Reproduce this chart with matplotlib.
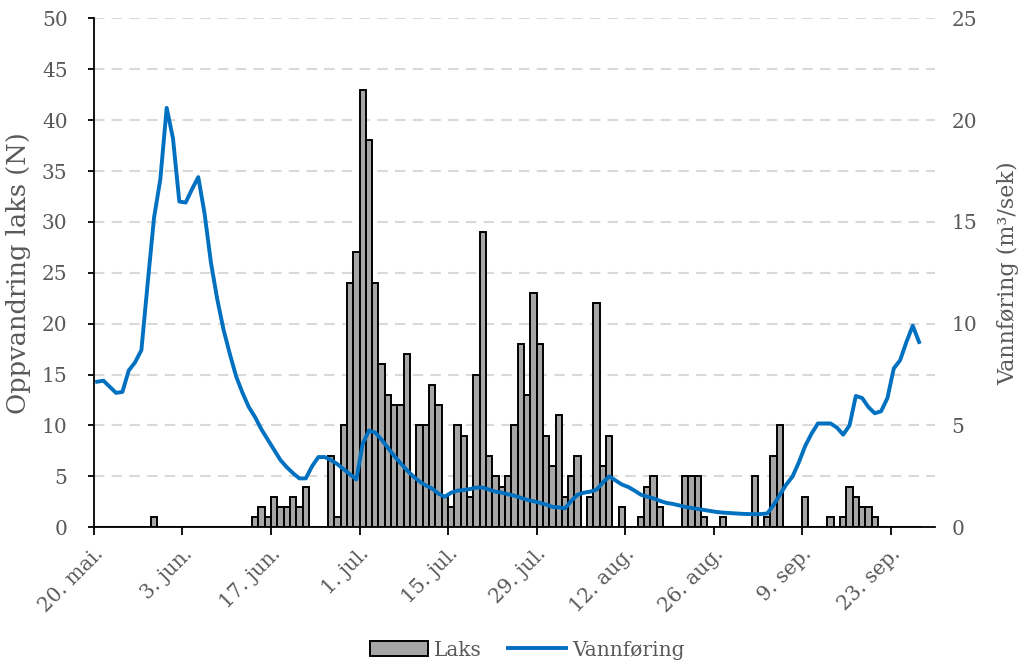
"""Daily salmon counts (bars) and river discharge (line), 20. mai - 30. sep."""

import numpy as np
import matplotlib
matplotlib.use("Agg")
import matplotlib.pyplot as plt
from matplotlib.patches import Patch
from matplotlib.lines import Line2D
from matplotlib.transforms import ScaledTranslation

TEXT, BAR, LINE, GRID = "#595959", "#a6a6a6", "#0070c0", "#d9d9d9"

plt.rcParams.update({
    "font.family": ["DejaVu Serif"],
    "font.size": 14,
    "text.color": TEXT,
    "axes.labelcolor": TEXT,
    "xtick.color": "black", "ytick.color": "black",
    "xtick.labelcolor": TEXT, "ytick.labelcolor": TEXT,
})

# salmon registered per day, first entry = 20. mai
laks = [
    0, 0, 0, 0, 0, 0, 0, 0, 0, 1,
    0, 0, 0, 0, 0, 0, 0, 0, 0, 0,
    0, 0, 0, 0, 0, 1, 2, 1, 3, 2,
    2, 3, 2, 4, 0, 0, 0, 7, 1, 10,
    24, 27, 43, 38, 24, 16, 13, 12, 12, 17,
    5, 10, 10, 14, 12, 3, 2, 10, 9, 3,
    15, 29, 7, 5, 4, 5, 10, 18, 13, 23,
    18, 9, 6, 11, 3, 5, 7, 0, 3, 22,
    6, 9, 0, 2, 0, 0, 1, 4, 5, 2,
    0, 0, 0, 5, 5, 5, 1, 0, 0, 1,
    0, 0, 0, 0, 5, 0, 1, 7, 10, 0,
    0, 0, 3, 0, 0, 0, 1, 0, 1, 4,
    3, 2, 2, 1, 0, 0, 0, 0, 0, 0,
    0,
]

# daily mean discharge, m3/s
vannforing = [
    7.15, 7.2, 6.9, 6.6, 6.65, 7.7, 8.1, 8.7, 12.0, 15.2,
    17.1, 20.6, 19.1, 16.0, 15.95, 16.6, 17.2, 15.4, 13.0, 11.2,
    9.7, 8.5, 7.4, 6.6, 5.9, 5.4, 4.8, 4.3, 3.8, 3.3,
    2.95, 2.65, 2.4, 2.4, 3.0, 3.45, 3.45, 3.3, 3.1, 2.85,
    2.6, 2.35, 4.1, 4.75, 4.65, 4.3, 3.9, 3.5, 3.15, 2.8,
    2.5, 2.25, 2.05, 1.9, 1.65, 1.5, 1.7, 1.8, 1.83, 1.88,
    1.95, 1.95, 1.85, 1.75, 1.7, 1.62, 1.55, 1.45, 1.35, 1.28,
    1.2, 1.12, 1.0, 0.98, 0.93, 1.3, 1.6, 1.7, 1.75, 1.85,
    2.2, 2.5, 2.3, 2.1, 1.98, 1.8, 1.6, 1.5, 1.42, 1.3,
    1.2, 1.15, 1.08, 1.0, 0.95, 0.9, 0.85, 0.8, 0.75, 0.72,
    0.7, 0.68, 0.66, 0.65, 0.64, 0.65, 0.68, 1.1, 1.6, 2.1,
    2.5, 3.2, 4.0, 4.6, 5.1, 5.1, 5.1, 4.9, 4.55, 5.0,
    6.45, 6.35, 5.9, 5.6, 5.7, 6.35, 7.8, 8.2, 9.1, 9.9,
    9.1,
]

tick_labels = ["20. mai.", "3. jun.", "17. jun.", "1. jul.", "15. jul.",
               "29. jul.", "12. aug.", "26. aug.", "9. sep.", "23. sep."]
n_days_axis = 133

fig = plt.figure(figsize=(10.28, 6.66), dpi=100)
ax = fig.add_axes([0.0914, 0.2083, 0.818, 0.7642])
ax2 = ax.twinx()

days = np.arange(len(laks))
ax.bar(days, laks, width=1.0, align="edge", color=BAR,
       edgecolor="black", linewidth=1.4, zorder=3)
ax2.plot(days + 0.5, vannforing, color=LINE, lw=2.8,
         solid_joinstyle="round")

ax.set_xlim(0, n_days_axis)
ax.set_ylim(0, 50)
ax2.set_ylim(0, 25)
ax.set_yticks(np.arange(0, 51, 5))
ax2.set_yticks(np.arange(0, 26, 5))

ax.set_xticks(np.arange(0, 14 * len(tick_labels), 14))
ax.set_xticklabels(tick_labels, rotation=45, ha="right", va="top",
                   rotation_mode="anchor", fontsize=14.5)
shift = ScaledTranslation(10 / 72, 0, fig.dpi_scale_trans)
for lbl in ax.get_xticklabels():
    lbl.set_transform(lbl.get_transform() + shift)

ax.yaxis.grid(True, color=GRID, lw=1.5, ls=(0, (5, 3.5)), zorder=0)
ax.set_axisbelow(True)

for s in ("top", "right"):
    ax.spines[s].set_visible(False)
for s in ax2.spines.values():
    s.set_visible(False)
ax.spines["left"].set_linewidth(1.3)
ax.spines["bottom"].set_linewidth(1.3)
ax.tick_params(axis="x", length=6, width=1.3, pad=6)
ax.tick_params(axis="y", length=4, width=1.3, pad=15, labelsize=14.5)
ax2.tick_params(axis="y", length=0, pad=12, labelsize=14.5)

ax.set_ylabel("Oppvandring laks (N)", fontsize=18.5, labelpad=8)
ax2.set_ylabel("Vannføring (m³/sek)", fontsize=16, labelpad=14)

handles = [Patch(facecolor=BAR, edgecolor="black", linewidth=1.4),
           Line2D([], [], color=LINE, lw=2.8)]
fig.legend(handles, ["Laks", "Vannføring"], loc="center",
           bbox_to_anchor=(0.513, 0.024), ncol=2, frameon=False,
           handlelength=2.9, handleheight=0.7, handletextpad=0.3,
           columnspacing=1.3, fontsize=14.5)

fig.savefig("out.png", dpi=100)
